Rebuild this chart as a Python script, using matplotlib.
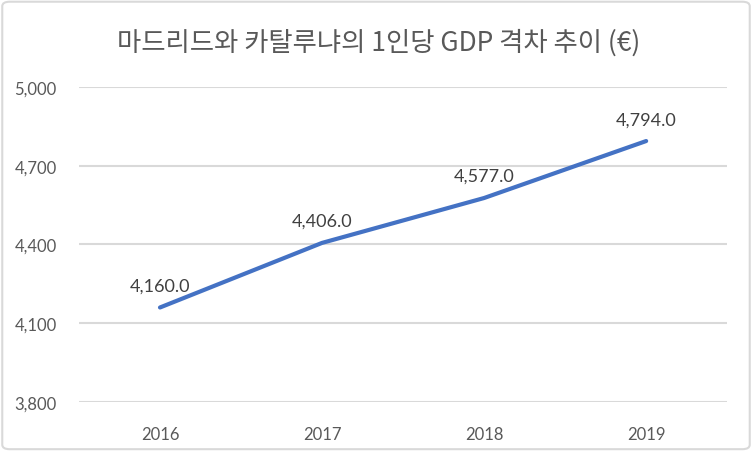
import matplotlib.pyplot as plt
from matplotlib.patches import FancyBboxPatch
from matplotlib.ticker import FuncFormatter

# ---------------------------------------------------------------------------
# Data
# ---------------------------------------------------------------------------
years = ["2016", "2017", "2018", "2019"]
gdp_gap = [4160.0, 4406.0, 4577.0, 4794.0]
y_ticks = [3800, 4100, 4400, 4700, 5000]

TITLE = "마드리드와 카탈루냐의 1인당 GDP 격차 추이 (€)"
LINE_COLOR = "#4472C4"
TEXT_COLOR = "#595959"
GRID_COLOR = "#D9D9D9"

plt.rcParams["font.family"] = ["Lato", "Noto Sans CJK KR", "DejaVu Sans"]

fig = plt.figure(figsize=(7.52, 4.52), dpi=100)
ax = fig.add_axes([0.105, 0.1084, 0.862, 0.697])

x = list(range(len(years)))
ax.plot(x, gdp_gap, color=LINE_COLOR, linewidth=3, solid_capstyle="round", zorder=3)

for xi, val in zip(x, gdp_gap):
    ax.annotate(f"{val:,.1f}", (xi, val), xytext=(0, 10), textcoords="offset points",
                ha="center", va="bottom", fontsize=13, color="#404040")

ax.set_xlim(-0.5, len(years) - 0.5)
ax.set_ylim(y_ticks[0], y_ticks[-1])
ax.set_xticks(x)
ax.set_xticklabels(years)
ax.set_yticks(y_ticks)
ax.yaxis.set_major_formatter(FuncFormatter(lambda v, _: f"{v:,.0f}"))
ax.tick_params(axis="both", length=0, labelsize=12, labelcolor=TEXT_COLOR)
ax.tick_params(axis="x", pad=17)
ax.tick_params(axis="y", pad=16)
ax.grid(axis="y", color=GRID_COLOR, linewidth=1.5)
ax.set_axisbelow(True)
for spine in ax.spines.values():
    spine.set_visible(False)

fig.text(0.503, 0.905, TITLE, ha="center", va="center", fontsize=19,
         fontweight="light", color=TEXT_COLOR,
         family=["Noto Sans CJK KR", "DejaVu Sans"])

# chart border
border = FancyBboxPatch((0.003, 0.004), 0.994, 0.99, transform=fig.transFigure,
                        boxstyle="round,pad=0,rounding_size=0.01",
                        facecolor="none", edgecolor=GRID_COLOR, linewidth=1.5)
fig.patches.append(border)

fig.savefig("out.png", dpi=100)
